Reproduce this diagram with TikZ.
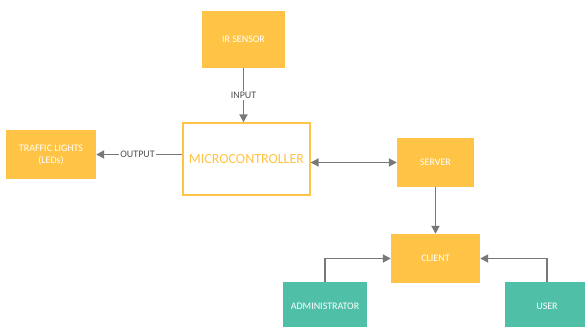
\documentclass[tikz,border=0pt]{standalone}
\usepackage{fontspec}
\setmainfont{Carlito}
\usetikzlibrary{arrows.meta}
\definecolor{boxyellow}{HTML}{FFC445}
\definecolor{boxteal}{HTML}{4FBFA8}
\definecolor{linkgray}{HTML}{787878}
\definecolor{labelgray}{HTML}{505050}
\tikzset{
  x=1pt, y=-1pt,
  box/.style={draw=none, inner sep=0pt, align=center, text=white, font=\fontsize{10}{12}\selectfont},
  ybox/.style={box, fill=boxyellow},
  tbox/.style={box, fill=boxteal},
  tip/.tip={Triangle[width=8pt,length=8pt]},
  link/.style={draw=linkgray, line width=1.8pt, -tip},
  dlink/.style={draw=linkgray, line width=1.8pt, tip-tip},
  lbl/.style={fill=white, inner sep=1.5pt, text=labelgray, font=\fontsize{10}{12}\selectfont}
}
\begin{document}
\begin{tikzpicture}
\useasboundingbox (0,0) rectangle (585,326);
\clip (0,0) rectangle (585,326);
% blocks
\node[ybox, minimum width=83pt, minimum height=57pt] (ir) at (243.5,39.5) {IR SENSOR};
\node[box, draw=boxyellow, line width=1.3pt, fill=white, text=boxyellow,
      font=\fontsize{14}{16}\selectfont, minimum width=127pt, minimum height=72pt] (mcu) at (246.5,159) {MICROCONTROLLER};
\node[ybox, minimum width=90pt, minimum height=49pt] (tl) at (51,154.5) {TRAFFIC LIGHTS\\(LEDs)};
\node[ybox, minimum width=77pt, minimum height=49pt] (srv) at (435.5,162.5) {SERVER};
\node[ybox, minimum width=89pt, minimum height=49pt] (cli) at (435.5,258.5) {CLIENT};
\node[tbox, minimum width=84pt, minimum height=49pt] (adm) at (325,306.5) {ADMINISTRATOR};
\node[tbox, minimum width=84pt, minimum height=49pt] (usr) at (547,306.5) {USER};
% connectors
\draw[link] (ir.south) -- node[lbl, pos=0.5] {INPUT} (mcu.north -| ir.south);
\draw[link] (mcu.west |- tl.east) -- node[lbl, pos=0.52] {OUTPUT} (tl.east);
\draw[dlink] (mcu.east |- srv.west) -- (srv.west);
\draw[link] (srv.south) -- (cli.north);
\draw[link] (adm.north) |- (cli.west);
\draw[link] (usr.north) |- (cli.east);
\end{tikzpicture}
\end{document}
